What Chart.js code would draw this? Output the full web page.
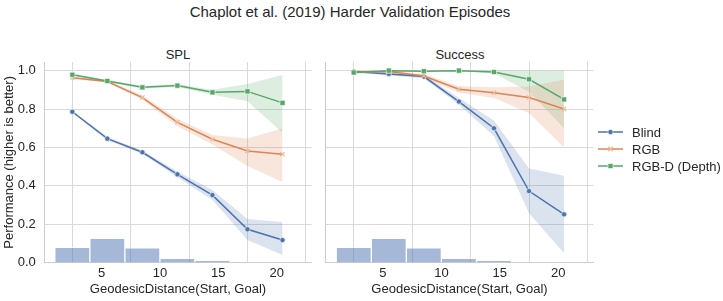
<!DOCTYPE html>
<html>
<head>
<meta charset="utf-8">
<script src="https://cdn.jsdelivr.net/npm/chart.js@4.4.0/dist/chart.umd.min.js"></script>
<style>
  body { margin: 0; background: #fff; font-family: "Liberation Sans", Arial, sans-serif; color: #262626; }
  #wrap { position: relative; width: 723px; height: 301px; overflow: hidden; background: #fff; }
  canvas { position: absolute; top: 0; }
  .txt { position: absolute; white-space: nowrap; }
  #title { left: 0; width: 700px; top: 4px; font-size: 15px; line-height: 15px; text-align: center; }
  .sub { top: 48px; font-size: 13px; line-height: 13px; text-align: center; width: 120px; }
  .leg { position: absolute; left: 596px; font-size: 13px; line-height: 13px; }
  .leg svg { position: absolute; left: 0; top: -1px; }
  .leg span { position: absolute; left: 36px; top: 0; white-space: nowrap; }
</style>
</head>
<body>
<div id="wrap">
  <div id="title" class="txt">Chaplot et al. (2019) Harder Validation Episodes</div>
  <div class="txt sub" style="left:118px">SPL</div>
  <div class="txt sub" style="left:400px">Success</div>
  <canvas id="splChart" width="318" height="301" style="left:0"></canvas>
  <canvas id="successChart" width="405" height="301" style="left:318px"></canvas>

  <div class="leg" style="top:126px">
    <svg width="30" height="14"><line x1="2" y1="7" x2="27" y2="7" stroke="#4C72B0" stroke-width="1.5"/><circle cx="14.5" cy="7" r="2.6" fill="#4C72B0" stroke="#fff" stroke-width="0.6"/></svg>
    <span>Blind</span>
  </div>
  <div class="leg" style="top:143px">
    <svg width="30" height="14"><line x1="2" y1="7" x2="27" y2="7" stroke="#DD8452" stroke-width="1.5"/><path d="M12.3 4.8 L16.7 9.2 M16.7 4.8 L12.3 9.2" stroke="#f0b89c" stroke-width="1.3"/></svg>
    <span>RGB</span>
  </div>
  <div class="leg" style="top:160px">
    <svg width="30" height="14"><line x1="2" y1="7" x2="27" y2="7" stroke="#55A868" stroke-width="1.5"/><rect x="12" y="4.5" width="5" height="5" fill="#55A868" stroke="#fff" stroke-width="0.6"/></svg>
    <span>RGB-D (Depth)</span>
  </div>
</div>

<script>
// bin centres of the geodesic distance (x)
const distances = [2.5, 5.5, 8.5, 11.5, 14.5, 17.5, 20.5];

// SPL panel
const splBlind   = [0.786, 0.646, 0.575, 0.460, 0.352, 0.174, 0.118];
const splBlindLo = [0.781, 0.638, 0.567, 0.445, 0.327, 0.118, 0.040];
const splBlindHi = [0.791, 0.654, 0.583, 0.475, 0.378, 0.228, 0.212];
const splRgb     = [0.963, 0.943, 0.860, 0.731, 0.643, 0.582, 0.565];
const splRgbLo   = [0.957, 0.937, 0.848, 0.710, 0.615, 0.503, 0.420];
const splRgbHi   = [0.969, 0.949, 0.872, 0.750, 0.665, 0.647, 0.700];
const splRgbd    = [0.979, 0.946, 0.913, 0.922, 0.887, 0.892, 0.832];
const splRgbdLo  = [0.975, 0.940, 0.906, 0.915, 0.875, 0.840, 0.677];
const splRgbdHi  = [0.983, 0.952, 0.920, 0.929, 0.900, 0.930, 0.977];

// Success panel
const sucBlind   = [0.995, 0.983, 0.969, 0.839, 0.700, 0.373, 0.252];
const sucBlindLo = [0.990, 0.975, 0.960, 0.822, 0.660, 0.257, 0.049];
const sucBlindHi = [1.000, 0.990, 0.978, 0.857, 0.740, 0.490, 0.453];
const sucRgb     = [0.990, 0.995, 0.972, 0.903, 0.885, 0.860, 0.800];
const sucRgbLo   = [0.985, 0.990, 0.962, 0.885, 0.857, 0.780, 0.600];
const sucRgbHi   = [0.995, 1.000, 0.982, 0.920, 0.914, 0.917, 0.953];
const sucRgbd    = [0.990, 1.000, 0.997, 1.000, 0.993, 0.955, 0.850];
const sucRgbdLo  = [0.985, 1.000, 0.993, 1.000, 0.985, 0.890, 0.700];
const sucRgbdHi  = [0.995, 1.000, 1.000, 1.000, 1.000, 1.000, 1.000];

// distance histogram (normalised counts) drawn along the bottom
const histCenters = [2.5, 5.5, 8.5, 11.5, 14.5];
const histHeights = [0.080, 0.127, 0.078, 0.023, 0.0125];

const xTicks = [5, 10, 15, 20];
const yTicks = [0, 0.2, 0.4, 0.6, 0.8, 1.0];

const BLUE = '#4C72B0', ORANGE = '#DD8452', GREEN = '#55A868';
const gridColor = '#d9d9d9';
const fontFam = '"Liberation Sans", Arial, sans-serif';

Chart.defaults.font.family = fontFam;
Chart.defaults.font.size = 13;
Chart.defaults.color = '#262626';

function pts(vals) {
    return distances.map((x, i) => ({x: x, y: vals[i]}));
}

function band(lo, hi, rgb) {
    return [
        { type: 'line', data: pts(lo), borderWidth: 0, borderColor: 'rgba(0,0,0,0)', pointRadius: 0, fill: false, order: 5 },
        { type: 'line', data: pts(hi), borderWidth: 0, borderColor: 'rgba(0,0,0,0)', pointRadius: 0,
          fill: '-1', backgroundColor: 'rgba(' + rgb + ',0.2)', order: 5 }
    ];
}

function makePanel(id, series, showY, yWidth, padRight) {
    const datasets = [
        {
            type: 'bar',
            data: histCenters.map((x, i) => ({x: x, y: histHeights[i]})),
            backgroundColor: 'rgba(76,114,176,0.5)',
            borderColor: 'rgba(255,255,255,0.7)',
            borderWidth: 1,
            barPercentage: 1,
            categoryPercentage: 1,
            order: 10
        },
        ...band(series.blindLo, series.blindHi, '76,114,176'),
        ...band(series.rgbLo, series.rgbHi, '221,132,82'),
        ...band(series.rgbdLo, series.rgbdHi, '85,168,104'),
        { type: 'line', data: pts(series.blind), borderColor: BLUE, borderWidth: 1.5, fill: false,
          pointStyle: 'circle', pointRadius: 2.6, pointBackgroundColor: BLUE, pointBorderColor: '#fff', pointBorderWidth: 0.6, order: 3 },
        { type: 'line', data: pts(series.rgb), borderColor: ORANGE, borderWidth: 1.5, fill: false,
          pointStyle: 'crossRot', pointRadius: 3, pointBorderColor: '#f0b89c', pointBorderWidth: 1.2, order: 2 },
        { type: 'line', data: pts(series.rgbd), borderColor: GREEN, borderWidth: 1.5, fill: false,
          pointStyle: 'rect', pointRadius: 3.6, pointBackgroundColor: GREEN, pointBorderColor: '#fff', pointBorderWidth: 0.6, order: 1 }
    ];

    new Chart(document.getElementById(id).getContext('2d'), {
        type: 'line',
        data: { datasets: datasets },
        options: {
            responsive: false,
            animation: false,
            devicePixelRatio: 1,
            layout: { padding: { top: 62, right: padRight, left: 0, bottom: 0 } },
            plugins: { legend: { display: false }, tooltip: { enabled: false } },
            scales: {
                x: {
                    type: 'linear',
                    min: 0.1,
                    max: 23.0,
                    offset: false,
                    afterBuildTicks: function(scale) {
                        scale.ticks = xTicks.map(v => ({value: v}));
                    },
                    afterFit: function(scale) { scale.height = 38.3; },
                    grid: { color: gridColor, drawTicks: false },
                    border: { color: '#cccccc' },
                    ticks: { padding: 3, color: '#262626', font: { size: 13 } },
                    title: { display: true, text: 'GeodesicDistance(Start, Goal)', color: '#262626',
                             font: { size: 13 }, padding: { top: 0, bottom: 4 } }
                },
                y: {
                    type: 'linear',
                    min: 0,
                    max: 1.045,
                    afterBuildTicks: function(scale) {
                        scale.ticks = yTicks.map(v => ({value: v}));
                    },
                    afterFit: function(scale) { scale.width = yWidth; },
                    grid: { color: gridColor, drawTicks: false },
                    border: { color: '#cccccc' },
                    ticks: {
                        display: showY, padding: 8.5, color: '#262626', font: { size: 13 },
                        callback: function(v) { return Number(v).toFixed(1); }
                    },
                    title: { display: showY, text: 'Performance (higher is better)', color: '#262626',
                             font: { size: 13 }, padding: { top: 2, bottom: 0 } }
                }
            }
        }
    });
}

makePanel('splChart', {
    blind: splBlind, blindLo: splBlindLo, blindHi: splBlindHi,
    rgb: splRgb, rgbLo: splRgbLo, rgbHi: splRgbHi,
    rgbd: splRgbd, rgbdLo: splRgbdLo, rgbdHi: splRgbdHi
}, true, 44.3, 6.3);

makePanel('successChart', {
    blind: sucBlind, blindLo: sucBlindLo, blindHi: sucBlindHi,
    rgb: sucRgb, rgbLo: sucRgbLo, rgbHi: sucRgbHi,
    rgbd: sucRgbd, rgbdLo: sucRgbdLo, rgbdHi: sucRgbdHi
}, false, 7.7, 129.7);
</script>
</body>
</html>
